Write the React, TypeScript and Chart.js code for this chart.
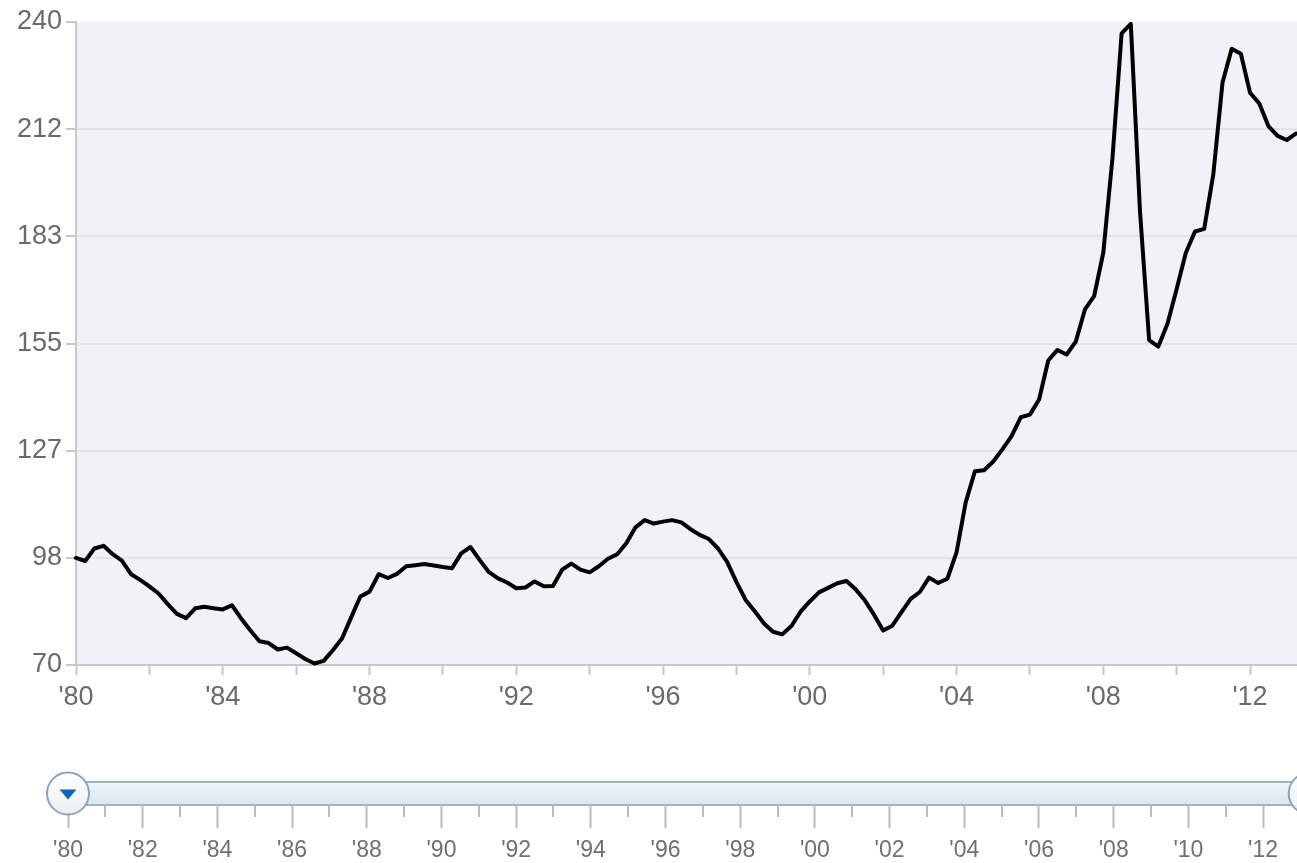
import { useEffect, useRef } from "react";
import { Chart, registerables } from "chart.js";

Chart.register(...registerables);

// Quarterly index, first value is 1980 Q1
const START_YEAR = 1980;
const indexValues = [
  98.3, 97.5, 100.8, 101.5, 99.3, 97.6, 94.0, 92.5, 90.8, 88.9,
  86.1, 83.5, 82.4, 85.0, 85.4, 85.0, 84.7, 85.8, 82.3, 79.2,
  76.3, 75.8, 74.1, 74.6, 73.1, 71.6, 70.4, 71.1, 73.9, 77.0,
  82.6, 88.1, 89.4, 94.0, 93.0, 94.1, 96.1, 96.4, 96.7, 96.3,
  95.9, 95.6, 99.5, 101.2, 97.8, 94.6, 92.9, 91.8, 90.3, 90.5,
  92.1, 90.8, 90.9, 95.2, 96.8, 95.2, 94.5, 96.1, 98.1, 99.3,
  102.2, 106.4, 108.3, 107.4, 107.9, 108.3, 107.7, 105.9, 104.4, 103.3,
  100.8, 97.2, 92.0, 87.2, 84.2, 81.0, 78.8, 78.1, 80.3, 84.1,
  86.8, 89.2, 90.4, 91.6, 92.2, 90.0, 87.1, 83.3, 79.1, 80.4,
  84.0, 87.5, 89.3, 93.1, 91.7, 92.8, 99.8, 113.0, 121.2, 121.5,
  123.8, 127.0, 130.5, 135.5, 136.2, 140.2, 150.5, 153.3, 152.1, 155.5,
  164.0, 167.5, 179.0, 204.0, 237.0, 239.5, 190.0, 155.9, 154.2, 160.2,
  169.4, 179.0, 184.6, 185.3, 199.8, 224.0, 232.9, 231.6, 221.3, 218.5,
  212.5, 209.9, 208.8, 210.5,
];

// Value axis
const yMin = 70;
const yMax = 240;
const yTickValues = [70, 98.333, 126.667, 155, 183.333, 211.667, 240];
const yTickLabels = ["70", "98", "127", "155", "183", "212", "240"];

// Time axis of the main plot
const xMax = 2013.28;
const xTickYears = [
  1980, 1982, 1984, 1986, 1988, 1990, 1992, 1994, 1996, 1998, 2000, 2002,
  2004, 2006, 2008, 2010, 2012,
];
const xTickLabels = [
  "'80", "", "'84", "", "'88", "", "'92", "", "'96", "", "'00", "",
  "'04", "", "'08", "", "'12",
];

// Range selector below the plot
const navMax = 2014.06;
const navMajorYears = xTickYears;
const navMajorLabels = [
  "'80", "'82", "'84", "'86", "'88", "'90", "'92", "'94", "'96", "'98",
  "'00", "'02", "'04", "'06", "'08", "'10", "'12",
];
const navMinorYears = [
  1981, 1983, 1985, 1987, 1989, 1991, 1993, 1995, 1997, 1999, 2001, 2003,
  2005, 2007, 2009, 2011,
];

const FONT = "'Liberation Sans', Arial, Helvetica, sans-serif";
const AXIS_GREY = "#c5c7c9";
const LABEL_GREY = "#6a6a6a";

const points = indexValues.map((v, i) => ({ x: START_YEAR + i / 4, y: v }));
const rangeStart = START_YEAR;
const rangeEnd = points[points.length - 1].x;

const plotBackground = {
  id: "plotBackground",
  beforeDraw(chart: any) {
    const { ctx, chartArea: a } = chart;
    ctx.save();
    ctx.fillStyle = "#eff2f6";
    ctx.fillRect(a.left, a.top, a.right - a.left, a.bottom - a.top);
    ctx.restore();
  },
};

function drawHandle(ctx: CanvasRenderingContext2D, cx: number, cy: number) {
  const r = 21;
  const g = ctx.createLinearGradient(0, cy - r, 0, cy + r);
  g.addColorStop(0, "#ffffff");
  g.addColorStop(1, "#e9eff5");
  ctx.beginPath();
  ctx.arc(cx, cy, r, 0, Math.PI * 2);
  ctx.fillStyle = g;
  ctx.fill();
  ctx.lineWidth = 2;
  ctx.strokeStyle = "#8fa3b6";
  ctx.stroke();
  ctx.beginPath();
  ctx.moveTo(cx - 8.5, cy - 4);
  ctx.lineTo(cx + 8.5, cy - 4);
  ctx.lineTo(cx, cy + 6);
  ctx.closePath();
  ctx.fillStyle = "#1565c0";
  ctx.fill();
}

const navigatorTrack = {
  id: "navigatorTrack",
  beforeDraw(chart: any) {
    const { ctx, chartArea: a } = chart;
    const sx = chart.scales.x;
    const x0 = sx.getPixelForValue(rangeStart);
    const x1 = sx.getPixelForValue(rangeEnd);
    ctx.save();
    const g = ctx.createLinearGradient(0, a.top, 0, a.bottom);
    g.addColorStop(0, "#f1f6fa");
    g.addColorStop(1, "#d9e6f0");
    ctx.fillStyle = g;
    ctx.fillRect(x0, a.top, x1 - x0, a.bottom - a.top);
    ctx.lineWidth = 2;
    ctx.strokeStyle = "#9fb2c3";
    ctx.strokeRect(x0, a.top, x1 - x0, a.bottom - a.top);
    ctx.restore();
  },
  afterDraw(chart: any) {
    const { ctx, chartArea: a } = chart;
    const sx = chart.scales.x;
    ctx.save();
    ctx.strokeStyle = "#b9bbbd";
    ctx.lineWidth = 2;
    for (const yr of navMinorYears) {
      const px = Math.round(sx.getPixelForValue(yr));
      ctx.beginPath();
      ctx.moveTo(px, a.bottom);
      ctx.lineTo(px, a.bottom + 12);
      ctx.stroke();
    }
    const cy = (a.top + a.bottom) / 2;
    drawHandle(ctx, sx.getPixelForValue(rangeStart), cy);
    drawHandle(ctx, sx.getPixelForValue(rangeEnd), cy);
    ctx.restore();
  },
};

export default function App() {
  const mainRef = useRef<HTMLCanvasElement | null>(null);
  const navRef = useRef<HTMLCanvasElement | null>(null);

  useEffect(() => {
    if (!mainRef.current || !navRef.current) return;

    const main = new Chart(mainRef.current, {
      type: "line",
      data: {
        datasets: [
          {
            data: points,
            borderColor: "#000000",
            borderWidth: 4,
            pointRadius: 0,
            tension: 0,
            borderJoinStyle: "round",
            borderCapStyle: "round",
            clip: false as any,
          },
        ],
      },
      options: {
        animation: false,
        responsive: false,
        maintainAspectRatio: false,
        layout: { padding: { top: 22, left: 0, right: 0, bottom: 0 } },
        plugins: { legend: { display: false }, tooltip: { enabled: false } },
        scales: {
          x: {
            type: "linear",
            min: START_YEAR,
            max: xMax,
            afterBuildTicks: (s: any) => {
              s.ticks = xTickYears.map((v) => ({ value: v }));
            },
            afterFit: (s: any) => {
              s.height = 55;
            },
            ticks: {
              callback: (_v: any, i: number) => xTickLabels[i],
              color: LABEL_GREY,
              font: { family: FONT, size: 27 },
              padding: 6,
              maxRotation: 0,
              autoSkip: false,
            },
            grid: {
              drawOnChartArea: false,
              drawTicks: true,
              tickLength: 10,
              tickColor: AXIS_GREY,
              tickWidth: 2,
            },
            border: { display: true, color: AXIS_GREY, width: 2 },
          },
          y: {
            type: "linear",
            min: yMin,
            max: yMax,
            afterBuildTicks: (s: any) => {
              s.ticks = yTickValues.map((v) => ({ value: v }));
            },
            afterFit: (s: any) => {
              s.width = 76;
            },
            ticks: {
              callback: (_v: any, i: number) => yTickLabels[i],
              color: LABEL_GREY,
              font: { family: FONT, size: 27 },
              padding: 4,
            },
            grid: {
              color: (c: any) =>
                c.tick && c.tick.value >= yMax ? "rgba(0,0,0,0)" : "#e1e4e7",
              lineWidth: 2,
              tickLength: 10,
              tickColor: AXIS_GREY,
              tickWidth: 2,
            },
            border: { display: true, color: AXIS_GREY, width: 2 },
          },
        },
      },
      plugins: [plotBackground],
    });

    const nav = new Chart(navRef.current, {
      type: "line",
      data: { datasets: [] },
      options: {
        animation: false,
        responsive: false,
        maintainAspectRatio: false,
        layout: { padding: { top: 42, left: 68, right: 0, bottom: 0 } },
        plugins: { legend: { display: false }, tooltip: { enabled: false } },
        scales: {
          x: {
            type: "linear",
            min: START_YEAR,
            max: navMax,
            afterBuildTicks: (s: any) => {
              s.ticks = navMajorYears.map((v) => ({ value: v }));
            },
            afterFit: (s: any) => {
              s.height = 58;
            },
            ticks: {
              callback: (_v: any, i: number) => navMajorLabels[i],
              color: "#707070",
              font: { family: FONT, size: 23 },
              padding: 9,
              maxRotation: 0,
              autoSkip: false,
            },
            grid: {
              drawOnChartArea: false,
              drawTicks: true,
              tickLength: 23,
              tickColor: "#b9bbbd",
              tickWidth: 2,
            },
            border: { display: false },
          },
          y: { display: false },
        },
      },
      plugins: [navigatorTrack],
    });

    return () => {
      main.destroy();
      nav.destroy();
    };
  }, []);

  return (
    <div
      style={{
        position: "absolute",
        left: 0,
        top: 0,
        width: 1297,
        height: 863,
        overflow: "hidden",
        background: "#ffffff",
      }}
    >
      <canvas
        ref={mainRef}
        width={1297}
        height={720}
        style={{ position: "absolute", left: 0, top: 0, width: 1297, height: 720 }}
      />
      <canvas
        ref={navRef}
        width={1340}
        height={123}
        style={{ position: "absolute", left: 0, top: 740, width: 1340, height: 123 }}
      />
    </div>
  );
}
